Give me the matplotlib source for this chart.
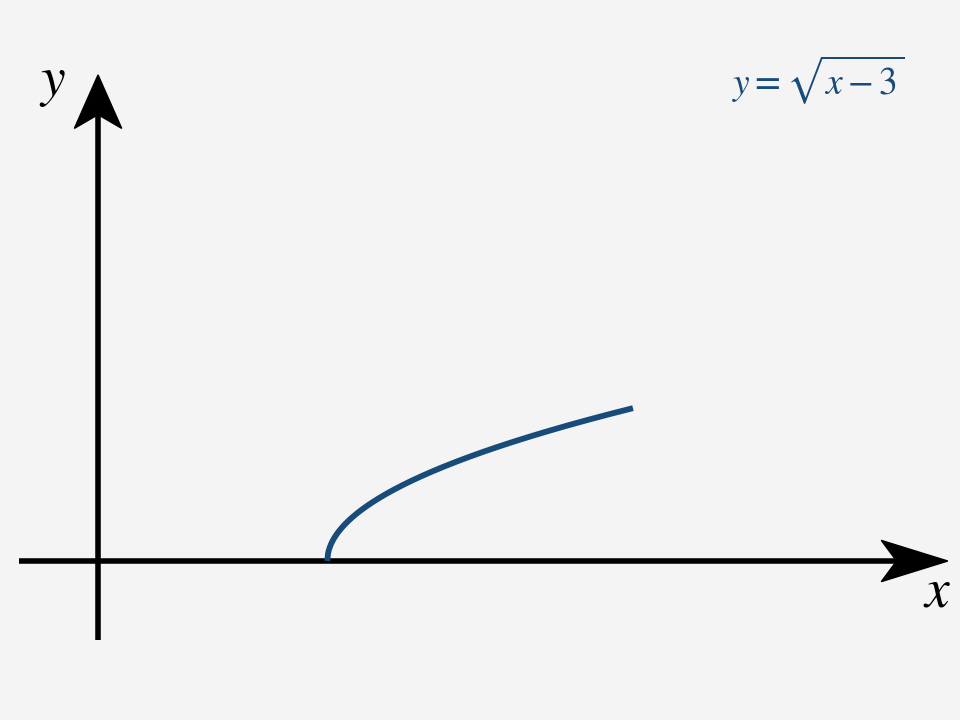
import numpy as np
import matplotlib.pyplot as plt
from matplotlib.patches import Polygon

plt.rcParams['mathtext.fontset'] = 'stix'
plt.rcParams['font.family'] = ['STIXGeneral', 'Liberation Serif', 'DejaVu Serif']

# curve y = sqrt(x - 3) drawn on [3, 7]
x_from, x_to = 3, 7
formula = r'$y=\sqrt{x-3}$'
curve_color = '#174b7a'
bg = '#f4f4f4'

xs = np.linspace(x_from, x_to, 400)
ys = np.sqrt(xs - 3)

fig = plt.figure(figsize=(9.6, 7.2), dpi=100, facecolor=bg)
ax = fig.add_axes([0, 0, 1, 1])
ax.set_facecolor(bg)
ax.set_xlim(-1.283, 11.28)
ax.set_ylim(-2.08, 7.34)
ax.axis('off')

# axes lines
ax.plot([-1.03, 10.6], [0, 0], color='black', lw=4.0, solid_capstyle='butt', zorder=2)
ax.plot([0, 0], [-1.03, 5.9], color='black', lw=4.0, solid_capstyle='butt', zorder=2)

# stealth-like arrow heads
ax.add_patch(Polygon([[11.12, 0], [10.25, 0.27], [10.45, 0], [10.25, -0.27]],
                     closed=True, color='black', zorder=3))
ax.add_patch(Polygon([[0, 6.36], [0.31, 5.66], [0, 5.84], [-0.31, 5.66]],
                     closed=True, color='black', zorder=3))

ax.plot(xs, ys, color=curve_color, lw=4.2, solid_capstyle='butt', zorder=4)

ax.text(10.98, -0.42, r'$x$', fontsize=40, ha='center', va='center')
ax.text(-0.6, 6.25, r'$y$', fontsize=40, ha='center', va='center')
ax.text(9.42, 6.3, formula, fontsize=27, color=curve_color, ha='center', va='center')

fig.savefig('out.png', dpi=100, facecolor=bg)
